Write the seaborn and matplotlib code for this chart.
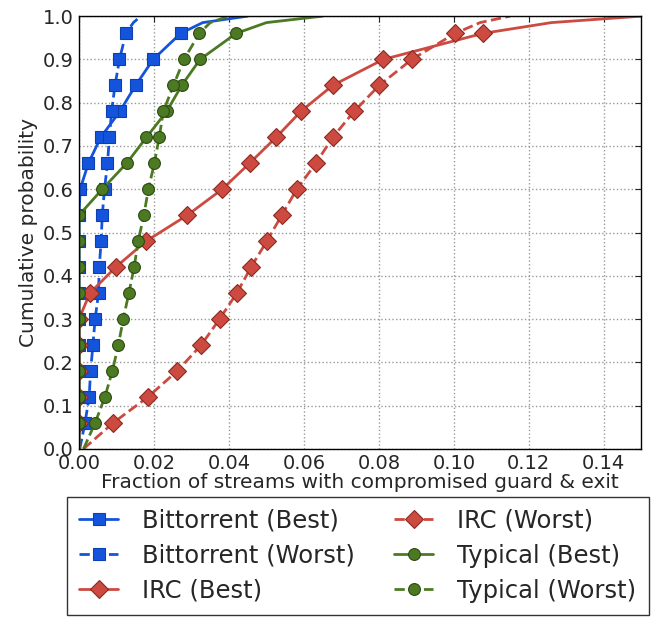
import seaborn as sns
import matplotlib.pyplot as plt
import pandas as pd

# cumulative probability levels (markers sit on the 0.06 steps)
levels = [0.00, 0.06, 0.12, 0.18, 0.24, 0.30, 0.36, 0.42, 0.48, 0.54,
          0.60, 0.66, 0.72, 0.78, 0.84, 0.90, 0.96, 0.985, 1.00]

# fraction of streams with compromised guard & exit at each level
bt_best = [0, 0, 0, 0, 0, 0, 0, 0, 0, 0, 0.0003, 0.0025, 0.0058, 0.0109,
           0.0151, 0.0198, 0.0271, 0.033, 0.045]
bt_worst = [0.0002, 0.0016, 0.0027, 0.0031, 0.0037, 0.0043, 0.0052, 0.0054,
            0.0059, 0.0062, 0.0068, 0.0076, 0.0081, 0.0087, 0.0096, 0.0108,
            0.0125, 0.0145, 0.0165]
irc_best = [0, 0, 0, 0, 0, 0, 0.0029, 0.0098, 0.0179, 0.0289, 0.0382,
            0.0455, 0.0526, 0.0592, 0.0677, 0.0812, 0.1077, 0.126, 0.15]
irc_worst = [0.0012, 0.0091, 0.0184, 0.0262, 0.0326, 0.0375, 0.0421, 0.0459,
             0.0501, 0.0541, 0.0581, 0.0632, 0.0677, 0.0734, 0.0801, 0.0888,
             0.1003, 0.107, 0.115]
typ_best = [0, 0, 0, 0, 0, 0, 0, 0, 0, 0, 0.0062, 0.0127, 0.018, 0.0234,
            0.0274, 0.0323, 0.0419, 0.05, 0.065]
typ_worst = [0.0012, 0.0043, 0.0069, 0.0089, 0.0105, 0.0118, 0.0133, 0.0147,
             0.0158, 0.0173, 0.0185, 0.0201, 0.0214, 0.0225, 0.0252, 0.028,
             0.0321, 0.035, 0.04]

series = [
    ('Bittorrent (Best)', bt_best, '#1454dc', '#0c3fb0', 's', '-'),
    ('Bittorrent (Worst)', bt_worst, '#1454dc', '#0c3fb0', 's', '--'),
    ('IRC (Best)', irc_best, '#cc4a40', '#8a2a22', 'D', '-'),
    ('IRC (Worst)', irc_worst, '#cc4a40', '#8a2a22', 'D', '--'),
    ('Typical (Best)', typ_best, '#4c7a22', '#2c4a10', 'o', '-'),
    ('Typical (Worst)', typ_worst, '#4c7a22', '#2c4a10', 'o', '--'),
]

sns.set_style('white')
fig = plt.figure(figsize=(6.53, 6.2), dpi=100)
ax = fig.add_axes([0.121, 0.276, 0.861, 0.698])

marker_idx = list(range(1, 17))
for name, xs, col, edge, mk, ls in series:
    df = pd.DataFrame({'x': xs, 'p': levels})
    sns.lineplot(data=df, x='x', y='p', ax=ax, estimator=None, sort=False,
                 color=col, linestyle=ls, linewidth=2, marker=mk,
                 markersize=8.5 if mk != 'D' else 9, markerfacecolor=col,
                 markeredgecolor=edge, markeredgewidth=0.8,
                 markevery=marker_idx, label=name,
                 dashes=(4, 2.5) if ls == '--' else (None, None))

ax.set_xlim(0, 0.15)
ax.set_ylim(0, 1.0)
ax.set_xticks([0.00, 0.02, 0.04, 0.06, 0.08, 0.10, 0.12, 0.14])
ax.set_xticklabels(['0.00', '0.02', '0.04', '0.06', '0.08', '0.10', '0.12', '0.14'])
ax.set_yticks([i / 10 for i in range(11)])
ax.set_yticklabels(['%.1f' % (i / 10) for i in range(11)])
ax.grid(True, linestyle=':', color='#999999', linewidth=1)
ax.tick_params(direction='in', top=True, right=True, labelsize=14, length=4, pad=4)
for s in ax.spines.values():
    s.set_color('black')
    s.set_linewidth(1)
ax.set_xlabel('Fraction of streams with compromised guard & exit', fontsize=14.5, labelpad=0)
ax.set_ylabel('Cumulative probability', fontsize=14.5, labelpad=3)

ax.legend_.remove()
handles, labels = ax.get_legend_handles_labels()
fig.legend(handles, labels, ncol=2, loc='upper center',
           bbox_to_anchor=(0.548, 0.199), fontsize=17.5, frameon=True,
           fancybox=False, edgecolor='black', handlelength=1.6,
           handletextpad=1.0, labelspacing=0.45, columnspacing=1.6,
           borderpad=0.5, borderaxespad=0)

fig.savefig('out.png', dpi=100)
